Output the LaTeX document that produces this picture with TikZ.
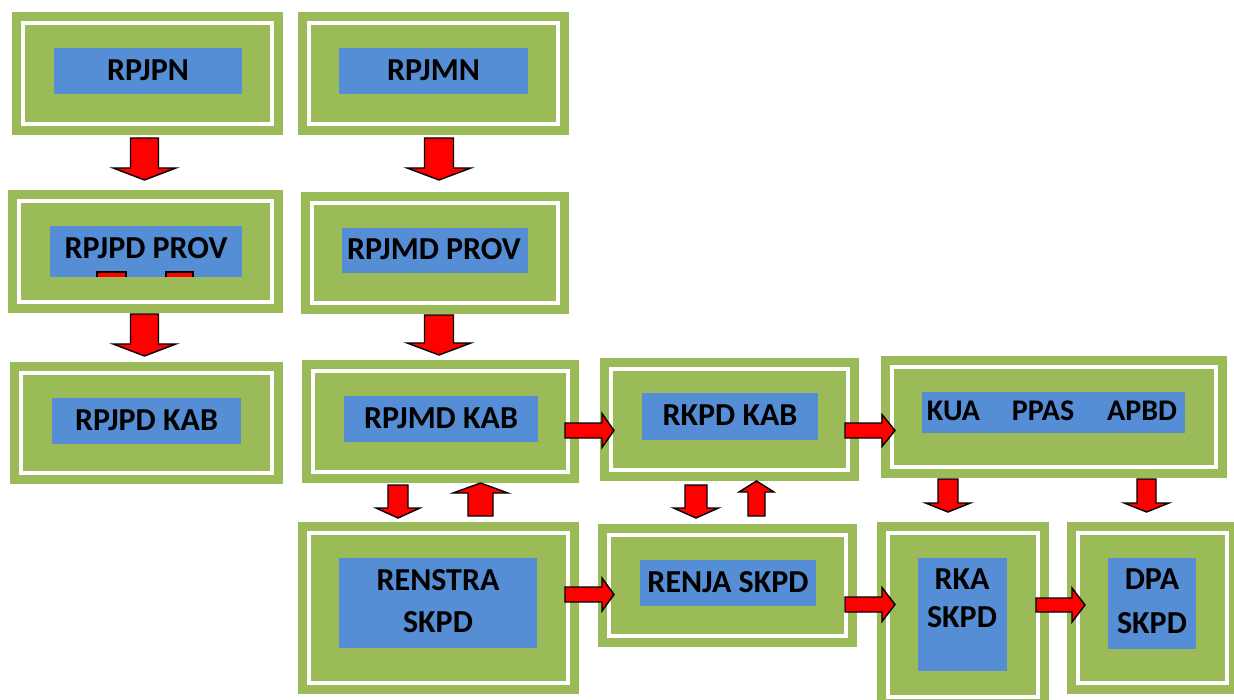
\documentclass[tikz,border=0pt]{standalone}
\usepackage{fontspec}
\setmainfont{Carlito}
\usetikzlibrary{fit}
\definecolor{gr}{HTML}{9BBB59}
\definecolor{bl}{HTML}{558ED5}
\tikzset{
  gboxs/.style={fill=gr, draw=none, inner sep=0pt, outer sep=0pt},
  wline/.style={draw=white, line width=4pt},
  bboxs/.style={fill=bl, draw=none, inner sep=0pt, outer sep=0pt},
  lbl/.style={font=\bfseries\fontsize{32}{41}\selectfont, text=black, align=center, inner sep=0pt},
  lblsm/.style={lbl, font=\bfseries\fontsize{30}{41}\selectfont},
  blk/.style={fill=red, draw=black, line width=1.4pt, line join=miter},
}
\newcommand\mkgreen[5]{%
  \node[gboxs, fit={(#2,#3) (#4,#5)}] (#1) {};
  \draw[wline] ([shift={(11,11)}]#1.north west) rectangle ([shift={(-11,-11)}]#1.south east);
}
\newcommand\mkblue[5]{\node[bboxs, fit={(#2,#3) (#4,#5)}] (#1) {};}
% vertical block arrow: cx, shaft half width, head half width, start y, head base y, tip y
\newcommand\blkarrv[6]{%
  \draw[blk] (#1-#2,#4) -- (#1+#2,#4) -- (#1+#2,#5) -- (#1+#3,#5) -- (#1,#6) -- (#1-#3,#5) -- (#1-#2,#5) -- cycle;}
% horizontal block arrow: cy, shaft half width, head half width, start x, head base x, tip x
\newcommand\blkarrh[6]{%
  \draw[blk] (#4,#1-#2) -- (#5,#1-#2) -- (#5,#1-#3) -- (#6,#1) -- (#5,#1+#3) -- (#5,#1+#2) -- (#4,#1+#2) -- cycle;}
\begin{document}
\begin{tikzpicture}[x=1pt,y=-1pt]
\useasboundingbox (0,0) rectangle (1234,700);
\clip (0,0) rectangle (1234,700);
% green frames
\mkgreen{g1}{12}{12}{283}{135}
\mkgreen{g2}{298}{12}{569}{135}
\mkgreen{g3}{8}{190}{283}{313}
\mkgreen{g4}{301}{192}{569}{314}
\mkgreen{g5}{10}{362}{283}{484}
\mkgreen{g6}{302}{360}{579}{483}
\mkgreen{g7}{298}{522}{579}{694}
\mkgreen{g8}{600}{358}{859}{481}
\mkgreen{g9}{598}{524}{857}{647}
\mkgreen{g10}{881}{356}{1227}{478}
\mkgreen{g11}{877}{522}{1049}{708}
\mkgreen{g12}{1067}{522}{1238}{694}
% blue boxes
\mkblue{b1}{54}{48}{242}{94}
\mkblue{b2}{339}{48}{528}{94}
\mkblue{b3}{50}{226}{242}{277}
\mkblue{b4}{342}{228}{528}{273}
\mkblue{b5}{52}{398}{241}{444}
\mkblue{b6}{344}{396}{538}{442}
\mkblue{b7}{339}{558}{537}{648}
\mkblue{b8}{642}{393}{818}{440}
\mkblue{b9}{640}{560}{816}{606}
\mkblue{b10}{922}{392}{1185}{433}
\mkblue{b11}{918}{558}{1007}{671}
\mkblue{b12}{1108}{558}{1196}{649}
% small red marks inside RPJPD PROV
\fill[red] (97,272) rectangle (126,277);
\draw[black, line width=1.2pt] (97,277) -- (97,272) -- (126,272) -- (126,277);
\fill[red] (166,272) rectangle (193,277);
\draw[black, line width=1.2pt] (166,277) -- (166,272) -- (193,272) -- (193,277);
% labels
\node[lbl] (t1) at (148,70) {RPJPN};
\node[lbl] (t2) at (433.5,70) {RPJMN};
\node[lbl] (t3) at (146,248) {RPJPD PROV};
\node[lbl] (t4) at (434,249) {RPJMD PROV};
\node[lbl] (t5) at (146.5,420) {RPJPD KAB};
\node[lbl] (t6) at (441,418) {RPJMD KAB};
\node[lbl] (t7) at (438,601) {RENSTRA\\[1pt]SKPD};
\node[lbl] (t8) at (730,415) {RKPD KAB};
\node[lbl] (t9) at (728,582) {RENJA SKPD};
\node[lblsm] (t10) at (1052,411) {KUA\hspace{32pt}PPAS\hspace{33pt}APBD};
\node[lbl] (t11) at (962,598) {RKA\\[-3pt]SKPD};
\node[lbl] (t12) at (1152,601) {DPA\\[3pt]SKPD};
% vertical arrows
\blkarrv{144.5}{14}{31.5}{138}{168}{180}
\blkarrv{439}{14.5}{32}{138}{168}{180}
\blkarrv{144.5}{14}{31.5}{314}{344}{356}
\blkarrv{439}{14.5}{32}{315}{343}{355}
\blkarrv{398}{10}{22}{485}{508}{518}
\blkarrv{480.5}{12.5}{27.5}{516}{493}{483}
\blkarrv{696}{11}{22.5}{485}{508}{518}
\blkarrv{756.5}{8.5}{17.5}{516}{492}{481}
\blkarrv{948}{10}{22.5}{479}{503}{512}
\blkarrv{1146.5}{9.5}{22.5}{479}{503}{512}
% horizontal arrows
\blkarrh{430.5}{7.5}{17}{565}{602}{614}
\blkarrh{430.5}{7.5}{16}{845}{882}{895}
\blkarrh{594.5}{7.5}{16.5}{565}{602}{614}
\blkarrh{604.5}{7.5}{17}{845}{882}{895}
\blkarrh{605}{7}{17}{1036}{1072}{1085}
\end{tikzpicture}
\end{document}
